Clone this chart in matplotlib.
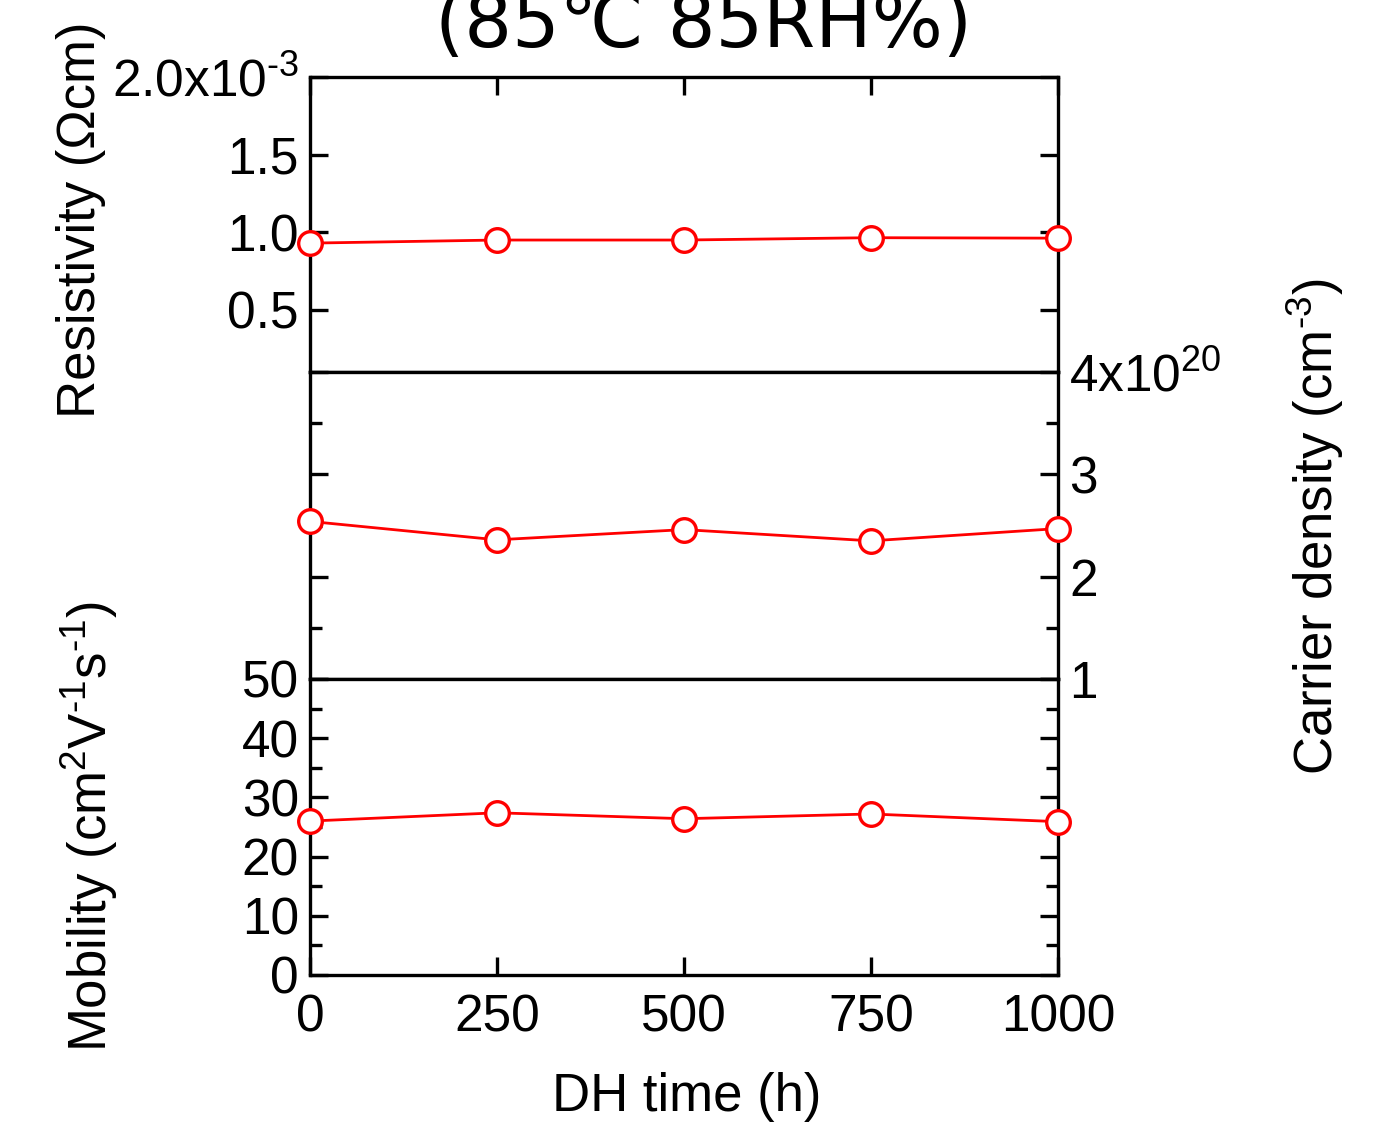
import matplotlib
matplotlib.use("Agg")
import matplotlib.pyplot as plt
from matplotlib.ticker import FixedLocator

plt.rcParams['font.family'] = ['Liberation Sans', 'DejaVu Sans']
plt.rcParams['mathtext.fontset'] = 'custom'
plt.rcParams['mathtext.rm'] = 'Liberation Sans'
plt.rcParams['mathtext.it'] = 'Liberation Sans:italic'
plt.rcParams['mathtext.bf'] = 'Liberation Sans:bold'

# ---- data ----
hours = [0, 250, 500, 750, 1000]
resistivity = [0.93, 0.95, 0.95, 0.965, 0.962]    # x10^-3 Ohm cm
carrier = [2.54, 2.36, 2.46, 2.35, 2.47]          # x10^20 cm^-3
mobility = [26.0, 27.4, 26.4, 27.2, 25.9]         # cm2/Vs

x_ticks = [0, 250, 500, 750, 1000]
res_ticks = [0.5, 1.0, 1.5, 2.0]
res_labels = ['0.5', '1.0', '1.5', '2.0x10$^{\\text{-3}}$']
car_ticks = [1, 2, 3, 4]
car_labels = ['1', '2', '3', '4x10$^{20}$']
mob_ticks = [0, 10, 20, 30, 40, 50]
mob_labels = ['0', '10', '20', '30', '40', '50']

W, H = 1379, 1125
fig = plt.figure(figsize=(W / 100, H / 100), dpi=100)

def rect(top, bottom, left=310, right=1058):
    return [left / W, 1 - bottom / H, (right - left) / W, (bottom - top) / H]

ax1 = fig.add_axes(rect(77, 372))
ax2 = fig.add_axes(rect(372, 679))
ax3 = fig.add_axes(rect(679, 975))

TICKFS = 37
LABFS = 38
red = '#ff0000'

for ax in (ax1, ax2, ax3):
    ax.set_xlim(0, 1000)
    for s in ax.spines.values():
        s.set_linewidth(2.4)
    ax.tick_params(which='major', direction='in', length=13, width=2.4,
                   labelsize=TICKFS, pad=8)
    ax.tick_params(which='minor', direction='in', length=8.5, width=2.4)
    ax.set_xticks(x_ticks)

line_kw = dict(color=red, lw=2.0, marker='o', ms=17, mfc='white',
               mec=red, mew=2.4, clip_on=False, zorder=5)

# top: resistivity
ax1.plot(hours, resistivity, **line_kw)
ax1.set_ylim(0.1, 2.0)
ax1.set_yticks(res_ticks)
ax1.set_yticklabels(res_labels)
ax1.tick_params(axis='x', top=True, bottom=False, labelbottom=False)
ax1.tick_params(axis='y', left=True, right=True, labelleft=True, labelright=False)

# middle: carrier density
ax2.plot(hours, carrier, **line_kw)
ax2.set_ylim(1, 4)
ax2.set_yticks(car_ticks)
ax2.set_yticklabels(car_labels)
ax2.yaxis.set_minor_locator(FixedLocator([1.5, 2.5, 3.5]))
ax2.tick_params(axis='x', top=False, bottom=False, labelbottom=False)
ax2.tick_params(axis='y', which='both', left=True, right=True,
                labelleft=False, labelright=True)

# bottom: mobility
ax3.plot(hours, mobility, **line_kw)
ax3.set_ylim(0, 50)
ax3.set_yticks(mob_ticks)
ax3.set_yticklabels(mob_labels)
ax3.yaxis.set_minor_locator(FixedLocator([5, 15, 25, 35, 45]))
ax3.tick_params(axis='x', top=False, bottom=True, labelbottom=True, pad=13)
ax3.tick_params(axis='y', which='both', left=True, right=True,
                labelleft=True, labelright=False)
ax3.set_xticklabels([str(v) for v in x_ticks])

# labels
fig.text(95 / W, 1 - 220 / H, 'Resistivity (Ωcm)', rotation=90,
         rotation_mode='anchor', ha='center', va='baseline', fontsize=LABFS)
fig.text(107 / W, 1 - 826 / H,
         'Mobility (cm$^{2}$V$^{\\text{-1}}$s$^{\\text{-1}}$)', rotation=90,
         rotation_mode='anchor', ha='center', va='baseline', fontsize=LABFS)
fig.text(1333 / W, 1 - 527 / H, 'Carrier density (cm$^{\\text{-3}}$)', rotation=90,
         rotation_mode='anchor', ha='center', va='baseline', fontsize=LABFS)
fig.text(687 / W, 1 - 1111 / H, 'DH time (h)', ha='center', va='baseline',
         fontsize=LABFS)
fig.text(703 / W, 1 - 47 / H, '(85℃ 85RH%)', ha='center', va='baseline',
         fontsize=54, family=['DejaVu Sans', 'Noto Sans CJK JP'])

fig.savefig('out.png', dpi=100)
